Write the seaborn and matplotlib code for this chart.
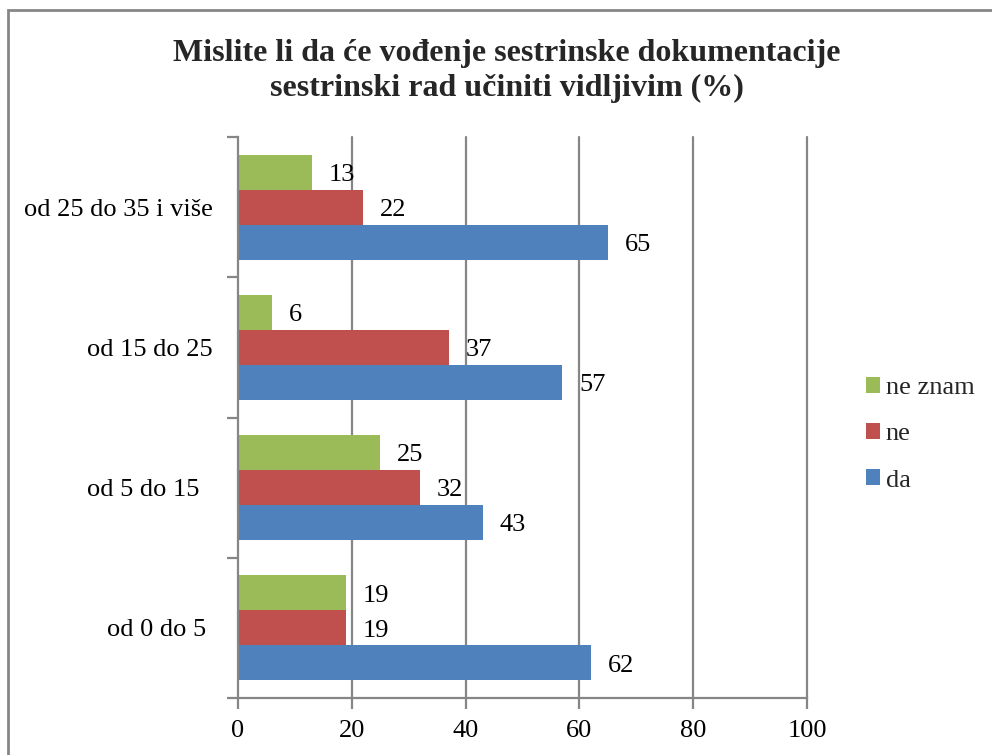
import matplotlib
matplotlib.use("Agg")
import matplotlib.pyplot as plt
import seaborn as sns
import pandas as pd
from matplotlib.patches import Rectangle

categories = ["od 25 do 35 i više", "od 15 do 25", "od 5 do 15", "od 0 do 5"]
tick_labels = ["od 25 do 35 i više", "od 15 do 25", "od 5 do 15  ", "od 0 do 5 "]
series_names = ["ne znam", "ne", "da"]
ne_znam = [13, 6, 25, 19]
ne = [22, 37, 32, 19]
da = [65, 57, 43, 62]
x_ticks = [0, 20, 40, 60, 80, 100]
title = "Mislite li da će vođenje sestrinske dokumentacije\nsestrinski rad učiniti vidljivim (%)"

colors = ["#9BBB59", "#C0504D", "#4F81BD"]

rows = []
for name, vals in zip(series_names, [ne_znam, ne, da]):
    for c, v in zip(categories, vals):
        rows.append({"kategorija": c, "serija": name, "vrijednost": v})
df = pd.DataFrame(rows)

sns.set_theme(style="white")
plt.rcParams["font.family"] = ["Liberation Serif", "DejaVu Serif"]

FS = 19

fig = plt.figure(figsize=(9.92, 7.55), dpi=100)
ax = fig.add_axes([238/992, 1-698/755, (807-238)/992, (698-137)/755])

sns.barplot(data=df, y="kategorija", x="vrijednost", hue="serija",
            order=categories, hue_order=series_names,
            palette=colors, width=0.75, ax=ax, orient="h",
            saturation=1, edgecolor="none", linewidth=0, legend=True)

ax.set_xlim(0, 100)
ax.set_ylim(len(categories)-0.5, -0.5)
ax.set_xticks(x_ticks)
ax.set_xticklabels([str(t) for t in x_ticks], fontsize=FS)
ax.set_xlabel("")
ax.set_ylabel("")

grid_c = "#868686"
ax.grid(False)
for t in x_ticks[1:]:
    ax.axvline(t, color=grid_c, lw=1.6, zorder=0, clip_on=False)

for s in ["top", "right"]:
    ax.spines[s].set_visible(False)
for s in ["left", "bottom"]:
    ax.spines[s].set_color(grid_c)
    ax.spines[s].set_linewidth(1.6)

ax.set_yticks([i for i in range(len(categories))])
ax.set_yticklabels(tick_labels, fontsize=FS)
ax.set_yticks([i - 0.5 for i in range(len(categories)+1)], minor=True)
ax.tick_params(axis="y", which="major", left=False, length=0, pad=18, labelcolor="black")
ax.tick_params(axis="y", which="minor", left=True, length=8, width=1.6,
               color=grid_c, direction="out")
ax.tick_params(axis="x", which="major", bottom=True, length=8, width=1.6,
               color=grid_c, direction="out", pad=8, labelcolor="black")

for cont in ax.containers:
    texts = ax.bar_label(cont, labels=[f"{int(v)}" for v in cont.datavalues],
                         padding=12, fontsize=FS, color="black")
    for t in texts:
        t.xyann = (12, -2)

leg = ax.legend(loc="center left", bbox_to_anchor=(1.085, 0.47), frameon=False,
                fontsize=FS, handlelength=0.55, handleheight=0.55,
                handletextpad=0.2, labelspacing=0.9, borderaxespad=0)

fig.text(507/992, 1-71/755, title, ha="center", va="center",
         fontsize=23, fontweight="bold", linespacing=1.25)

fig.patches.append(Rectangle((8/992, -0.1), 1.2, 1-10/755+0.1,
                             transform=fig.transFigure, fill=False,
                             edgecolor=grid_c, linewidth=2))

fig.savefig("out.png", dpi=100)
